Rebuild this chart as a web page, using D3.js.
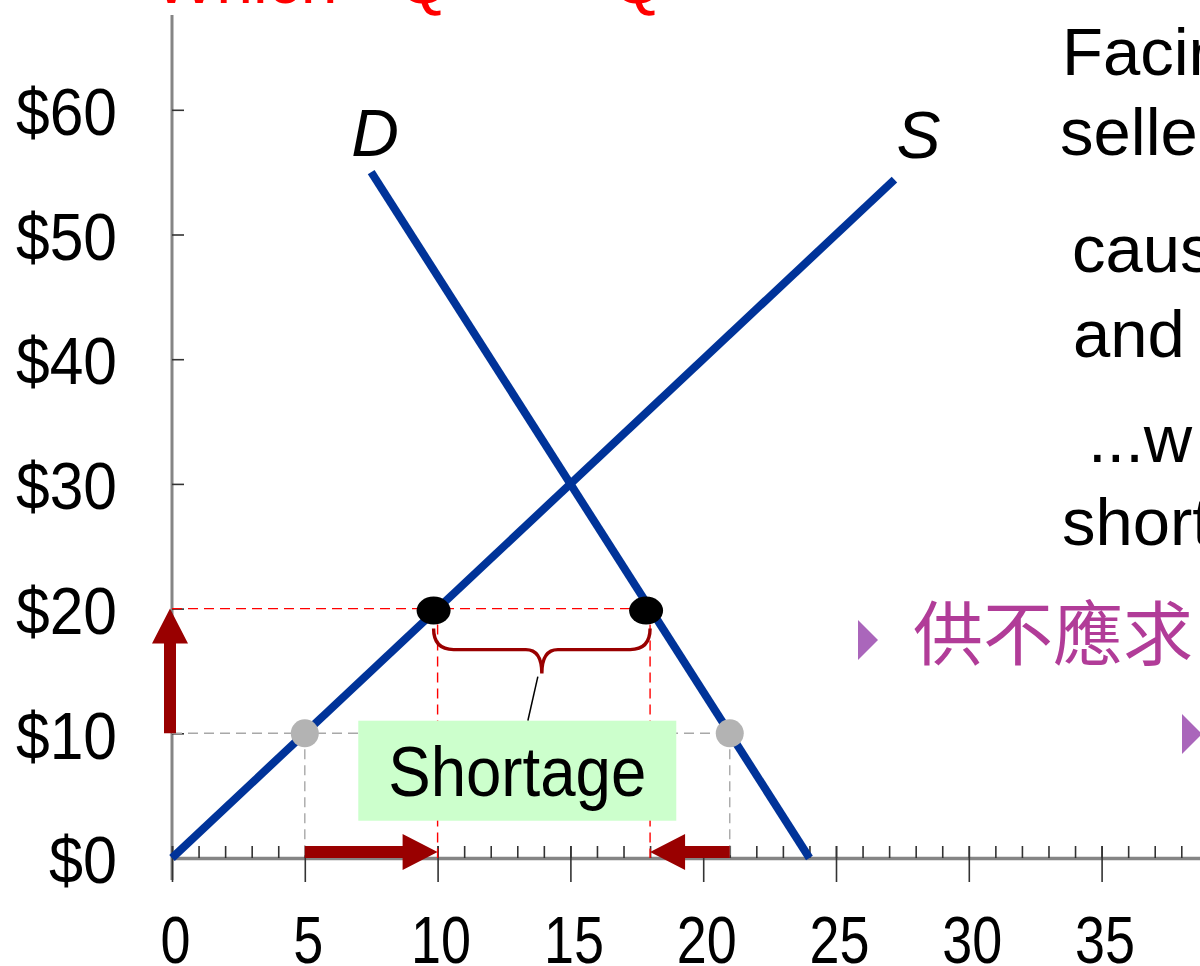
<!DOCTYPE html>
<html>
<head>
<meta charset="utf-8">
<script src="https://cdn.jsdelivr.net/npm/d3@7"></script>
<style>
  html, body { margin: 0; padding: 0; background: #fff; overflow: hidden; }
  svg { display: block; }
</style>
</head>
<body>
<svg width="1200" height="966"></svg>
<script>
// Chart values
var priceTicks = [0, 10, 20, 30, 40, 50, 60];
var qtyTicks = [0, 5, 10, 15, 20, 25, 30, 35];
var qtyMinor = d3.range(0, 41);
var supplyQ = [0, 27.2];     // S: P = 2Q
var supplyP = [0, 54.4];
var demandQ = [7.5, 24];     // D: P = 80 - 10Q/3
var demandP = [55, 0];
var ceilingQ = [10, 18];     // Qs, Qd at the $20 price
var ceilingP = 20;
var oldQ = [5, 21];          // Qs, Qd at the $10 price
var oldP = 10;
var arrowFrom = [[0, 10], [5, 0], [21, 0]];
var arrowTo = [[0, 20], [10, 0], [18, 0]];
var titleParts = ["Which", "Q", "<", "Q"];
var noteLines = ["Facing", "sellers", "causes", "and", "...w", "shortage"];
var bulletText = "供不應求";
var boxLabel = "Shortage";

var svg = d3.select("svg"),
	width = +svg.attr("width"),
	height = +svg.attr("height");

var x = d3.scaleLinear().domain([0, 40]).range([172, 172 + 40 * 26.56]);
var y = d3.scaleLinear().domain([0, 60]).range([858, 858 - 60 * 12.47]);

var blue = "#003399", darkRed = "#990000";
var sans = "Liberation Sans, Arial, sans-serif";

// Title (only the bottom of it is inside the picture)
var titleX = [154, 398, 524, 612];
svg.append("text")
	.attr("y", 3)
	.style("font-family", sans)
	.style("font-size", "66px")
	.attr("fill", "#ff0000")
	.selectAll("tspan")
	.data(titleParts)
	.enter()
	.append("tspan")
		.attr("x", function (d, i) { return titleX[i]; })
		.text(function (d) { return d; });

// Y axis line
svg.append("line")
	.attr("x1", x(0)).attr("x2", x(0))
	.attr("y1", 15).attr("y2", y(0) + 22)
	.attr("stroke", "#858585").attr("stroke-width", 3);

// Y axis ticks + labels
var yAxis = svg.append("g")
	.attr("transform", "translate(" + x(0) + ",0)")
	.call(d3.axisLeft(y).tickValues(priceTicks).tickSize(-12).tickSizeOuter(0)
		.tickFormat(function (d) { return "$" + d; }));
yAxis.select(".domain").remove();
yAxis.selectAll(".tick line").attr("stroke", "#333").attr("stroke-width", 1.6);
yAxis.selectAll(".tick text")
	.attr("x", -55)
	.attr("dy", "0.37em")
	.attr("text-anchor", "end")
	.attr("fill", "#000")
	.attr("textLength", function (d) { return String(d).length * 33 + 35; })
	.attr("lengthAdjust", "spacingAndGlyphs")
	.style("font-family", sans)
	.style("font-size", "67px");

// X axis: minor ticks upward, majors crossing the line
var xMinor = svg.append("g")
	.attr("transform", "translate(0," + y(0) + ")")
	.call(d3.axisTop(x).tickValues(qtyMinor).tickSize(12).tickSizeOuter(0).tickFormat(""));
xMinor.select(".domain").attr("stroke", "#858585").attr("stroke-width", 3.5);
xMinor.selectAll(".tick line").attr("stroke", "#333").attr("stroke-width", 1.6);

var xAxis = svg.append("g")
	.attr("transform", "translate(0," + y(0) + ")")
	.call(d3.axisBottom(x).tickValues(qtyTicks).tickSize(24).tickSizeOuter(0).tickFormat(d3.format("d")));
xAxis.select(".domain").remove();
xAxis.selectAll(".tick line").attr("y1", -12).attr("stroke", "#333").attr("stroke-width", 1.6);
xAxis.selectAll(".tick text")
	.attr("y", 105)
	.attr("dy", 0)
	.attr("dx", 3)
	.attr("fill", "#000")
	.attr("textLength", function (d) { return String(d).length * 30; })
	.attr("lengthAdjust", "spacingAndGlyphs")
	.style("font-family", sans)
	.style("font-size", "67px");

// Dashed guide lines
function guides(q, p, colour) {
	var g = svg.append("g")
		.attr("stroke", colour)
		.attr("stroke-width", 1.4)
		.attr("stroke-dasharray", "10,6")
		.attr("fill", "none");
	g.append("line")
		.attr("x1", x(0)).attr("x2", x(d3.max(q)))
		.attr("y1", y(p)).attr("y2", y(p));
	g.selectAll(".v")
		.data(q)
		.enter()
		.append("line")
			.attr("x1", function (d) { return x(d); })
			.attr("x2", function (d) { return x(d); })
			.attr("y1", y(p)).attr("y2", y(0));
}
guides(oldQ, oldP, "#a8a8a8");
guides(ceilingQ, ceilingP, "#ff0000");

// Supply and demand curves
var line = d3.line()
	.x(function (d) { return x(d[0]); })
	.y(function (d) { return y(d[1]); });
svg.append("path")
	.datum(d3.zip(supplyQ, supplyP))
	.attr("d", line)
	.attr("fill", "none").attr("stroke", blue).attr("stroke-width", 8);
svg.append("path")
	.datum(d3.zip(demandQ, demandP))
	.attr("d", line)
	.attr("fill", "none").attr("stroke", blue).attr("stroke-width", 8);

// Curve labels
svg.append("text")
	.attr("x", x(demandQ[0]) + 4).attr("y", 156)
	.attr("text-anchor", "middle")
	.style("font-family", sans).style("font-style", "italic").style("font-size", "66px")
	.text("D");
svg.append("text")
	.attr("x", x(supplyQ[1]) + 24).attr("y", 158)
	.attr("text-anchor", "middle")
	.style("font-family", sans).style("font-style", "italic").style("font-size", "66px")
	.text("S");

// Points
svg.selectAll(".old")
	.data(oldQ)
	.enter()
	.append("circle")
		.attr("cx", function (d) { return x(d); })
		.attr("cy", y(oldP))
		.attr("r", 14)
		.attr("fill", "#b3b3b3");
svg.selectAll(".new")
	.data(ceilingQ)
	.enter()
	.append("ellipse")
		.attr("cx", function (d) { return x(d) - 4; })
		.attr("cy", y(ceilingP) + 2)
		.attr("rx", 17).attr("ry", 14)
		.attr("fill", "#000");

// Arrows
function arrowPath(x1, y1, x2, y2) {
	var dx = x2 - x1, dy = y2 - y1, L = Math.sqrt(dx * dx + dy * dy);
	var ux = dx / L, uy = dy / L, nx = -uy, ny = ux;
	var sw = 6, hw = 18, hl = 35;
	var bx = x2 - ux * hl, by = y2 - uy * hl;
	var pts = [
		[x1 + nx * sw, y1 + ny * sw],
		[bx + nx * sw, by + ny * sw],
		[bx + nx * hw, by + ny * hw],
		[x2, y2],
		[bx - nx * hw, by - ny * hw],
		[bx - nx * sw, by - ny * sw],
		[x1 - nx * sw, y1 - ny * sw]
	];
	return "M" + pts.join("L") + "Z";
}
svg.selectAll(".arrow")
	.data(d3.zip(arrowFrom, arrowTo))
	.enter()
	.append("path")
		.attr("d", function (d) {
			var vertical = d[0][0] === d[1][0];
			var ox = vertical ? -2 : 0, oy = vertical ? 0 : -6;
			return arrowPath(x(d[0][0]) + ox, y(d[0][1]) + oy, x(d[1][0]) + ox, y(d[1][1]) + oy);
		})
		.attr("fill", darkRed);

// Brace under the two points
var bl = x(ceilingQ[0]) - 4, br = x(ceilingQ[1]), bm = (bl + br) / 2;
var bTop = y(ceilingP) + 20, bMid = bTop + 21, bTip = bTop + 45;
svg.append("path")
	.attr("d", "M" + bl + "," + bTop +
		"Q" + bl + "," + bMid + " " + (bl + 20) + "," + bMid +
		"L" + (bm - 16) + "," + bMid +
		"Q" + bm + "," + bMid + " " + bm + "," + bTip +
		"Q" + bm + "," + bMid + " " + (bm + 16) + "," + bMid +
		"L" + (br - 20) + "," + bMid +
		"Q" + br + "," + bMid + " " + br + "," + bTop)
	.attr("fill", "none").attr("stroke", darkRed).attr("stroke-width", 3.4);

// Shortage label box
var boxCx = x(13), boxCy = y(7), boxW = 318, boxH = 100;
svg.append("line")
	.attr("x1", bm - 4).attr("y1", bTip + 3)
	.attr("x2", bm - 14).attr("y2", boxCy - boxH / 2)
	.attr("stroke", "#000").attr("stroke-width", 1.5);
svg.append("rect")
	.attr("x", boxCx - boxW / 2).attr("y", boxCy - boxH / 2)
	.attr("width", boxW).attr("height", boxH)
	.attr("fill", "#ccffcc");
svg.append("text")
	.attr("x", boxCx).attr("y", boxCy + 25)
	.attr("text-anchor", "middle")
	.attr("textLength", 258).attr("lengthAdjust", "spacingAndGlyphs")
	.style("font-family", sans)
	.style("font-size", "70px")
	.text(boxLabel);

// Notes on the right (cut off by the picture edge)
var noteX = [1062, 1060, 1072, 1073, 1088, 1062];
var noteY = [75, 155, 272, 357, 462, 545];
svg.selectAll(".note")
	.data(noteLines)
	.enter()
	.append("text")
		.attr("x", function (d, i) { return noteX[i]; })
		.attr("y", function (d, i) { return noteY[i]; })
		.style("font-family", sans)
		.style("font-size", "67px")
		.attr("fill", "#000")
		.text(function (d) { return d; });

// Purple bullets
svg.append("path")
	.attr("d", "M858,620L878,640L858,660Z")
	.attr("fill", "#aa66bb");
svg.append("path")
	.attr("d", "M1182,714L1202,734L1182,754Z")
	.attr("fill", "#aa66bb");
svg.append("text")
	.attr("x", 913).attr("y", 660)
	.style("font-family", "Noto Sans CJK TC, sans-serif")
	.style("font-size", "70px")
	.attr("fill", "#b13c98")
	.text(bulletText);
</script>
</body>
</html>
